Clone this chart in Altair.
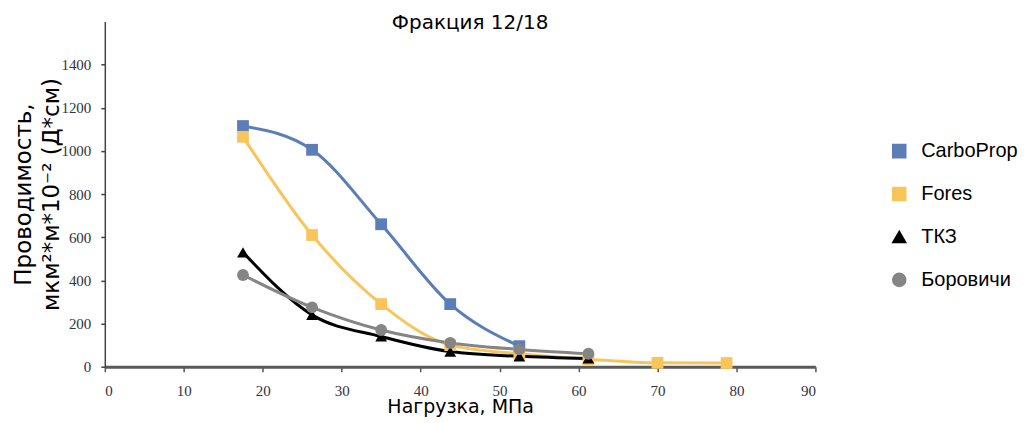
import altair as alt
import pandas as pd

loads = [17.5, 26.25, 35, 43.75, 52.5, 61.25, 70, 78.75]
series_names = ["CarboProp", "Fores", "ТКЗ", "Боровичи"]
carboprop = [1115, 1005, 660, 290, 95]
fores = [1065, 610, 290, 100, 60, 35, 18, 17]
tkz = [530, 240, 140, 70, 48, 38]
borovichi = [425, 275, 170, 110, 80, 60]
colors = ["#5B7DB8", "#F9C55B", "#000000", "#858585"]
shapes = ["square", "square", "triangle-up", "circle"]

rows = []
for name, vals in zip(series_names, [carboprop, fores, tkz, borovichi]):
    for x, y in zip(loads, vals):
        rows.append({"load": x, "cond": y, "series": name})
df = pd.DataFrame(rows)

cscale = alt.Scale(domain=series_names, range=colors)
sscale = alt.Scale(domain=series_names, range=shapes)

x_enc = alt.X("load:Q", scale=alt.Scale(domain=[0, 90]),
              axis=alt.Axis(values=list(range(0, 91, 10)), title="Нагрузка, МПа",
                            titleFontSize=19, titleFont="DejaVu Sans", titleFontWeight="normal",
                            titleColor="#000000", titlePadding=-1,
                            labelFont="Liberation Serif", labelFontSize=15, labelColor="#333344",
                            labelPadding=12, tickSize=5, tickColor="#555555", tickWidth=1.5,
                            domainColor="#5a5a5a", domainWidth=3, grid=False))
y_enc = alt.Y("cond:Q", scale=alt.Scale(domain=[0, 1500]),
              axis=alt.Axis(values=list(range(0, 1401, 200)), format="d",
                            title=["Проводимость,", "мкм²*м*10⁻² (Д*см)"],
                            titleFontSize=23, titleFont="DejaVu Sans", titleFontWeight="normal",
                            titleColor="#000000", titleLineHeight=28, titlePadding=-3,
                            labelFont="Liberation Serif", labelFontSize=15, labelColor="#333344",
                            labelPadding=10, tickSize=4, tickColor="#444444", tickWidth=1.5,
                            domainColor="#444444", domainWidth=1.5, grid=False))

base = alt.Chart(df)

lines = base.mark_line(interpolate="monotone", strokeWidth=3).encode(
    x=x_enc, y=y_enc,
    color=alt.Color("series:N", scale=cscale, title=None),
    detail="series:N",
)

points = base.mark_point(filled=True, opacity=1, size=140).encode(
    x="load:Q", y="cond:Q",
    color=alt.Color("series:N", scale=cscale, title=None),
    shape=alt.Shape("series:N", scale=sscale, title=None),
)

chart = alt.layer(lines, points).properties(
    width=712, height=346,
    background="#ffffff",
    title=alt.TitleParams("Фракция 12/18", font="DejaVu Sans", fontSize=20,
                          fontWeight="normal", color="#000000", offset=-12, dx=10),
).configure_view(stroke=None).configure_legend(
    orient="none", legendX=786, legendY=120,
    labelFont="Liberation Sans", labelFontSize=20, labelColor="#000000",
    symbolSize=170, symbolOpacity=1, rowPadding=23, labelOffset=12,
)

chart.save("out.html", embed_options={"renderer": "svg", "actions": False})
